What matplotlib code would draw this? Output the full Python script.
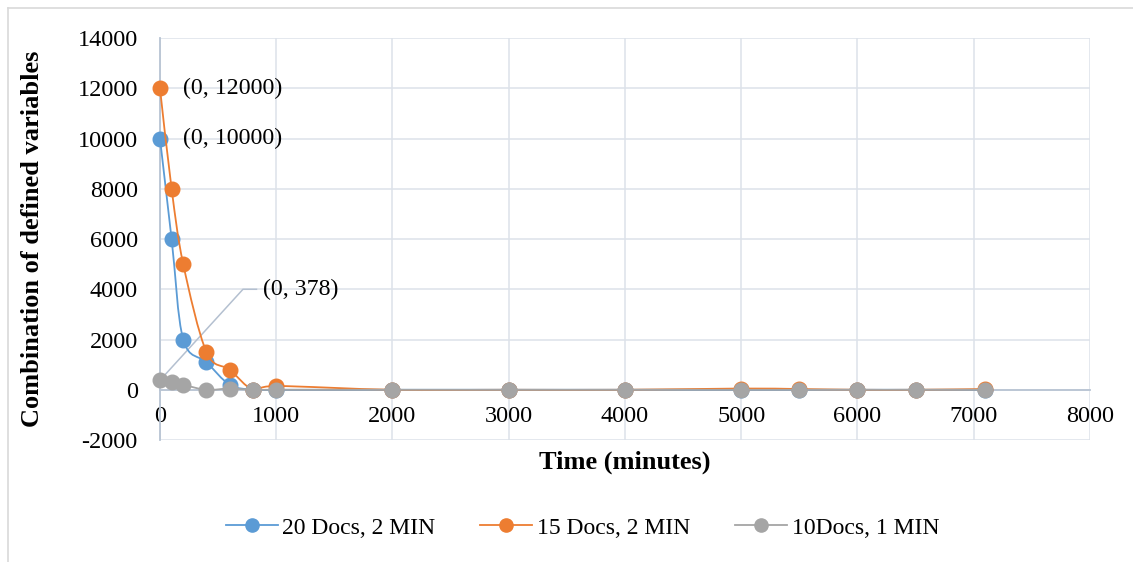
import matplotlib.pyplot as plt
from matplotlib.path import Path
from matplotlib.patches import PathPatch
from matplotlib.lines import Line2D

plt.rcParams['font.family'] = ['Liberation Serif', 'DejaVu Serif']
plt.rcParams['axes.unicode_minus'] = False

# data
time_min = [0, 100, 200, 400, 600, 800, 1000, 2000, 3000, 4000, 5000, 5500, 6000, 6500, 7100]
docs20 = [10000, 6000, 2000, 1100, 200, 0, 0, 0, 0, 0, 0, 0, 0, 0, 0]
docs15 = [12000, 8000, 5000, 1500, 800, 0, 150, 0, 0, 0, 50, 30, 0, 0, 30]
docs10 = [378, 300, 200, 0, 50, 0, 0, 0, 0, 0, 0, 0, 0, 0, 0]

names = ["20 Docs, 2 MIN", "15 Docs, 2 MIN", "10Docs, 1 MIN"]
colors = ["#5B9BD5", "#ED7D31", "#A5A5A5"]


def smooth_path(xs, ys):
    # excel-like smoothed line: catmull-rom turned into cubic bezier segments
    pts = list(zip(xs, ys))
    verts = [pts[0]]
    codes = [Path.MOVETO]
    n = len(pts)
    for i in range(n - 1):
        p0 = pts[i - 1] if i > 0 else pts[i]
        p1 = pts[i]
        p2 = pts[i + 1]
        p3 = pts[i + 2] if i + 2 < n else pts[i + 1]
        c1 = (p1[0] + (p2[0] - p0[0]) / 6, p1[1] + (p2[1] - p0[1]) / 6)
        c2 = (p2[0] - (p3[0] - p1[0]) / 6, p2[1] - (p3[1] - p1[1]) / 6)
        verts += [c1, c2, p2]
        codes += [Path.CURVE4] * 3
    return Path(verts, codes)


fig = plt.figure(figsize=(11.33, 5.62), dpi=100)
ax = fig.add_axes([0.1412, 0.217, 0.8208, 0.7154])

ax.set_xlim(0, 8000)
ax.set_ylim(-2000, 14000)
ax.set_xticks(range(0, 8001, 1000))
ax.set_yticks(range(-2000, 14001, 2000))
ax.grid(True, color="#dde2e9", lw=1.1)
ax.set_axisbelow(True)

for s in ["top", "right"]:
    ax.spines[s].set_visible(False)
ax.spines["bottom"].set_position(("data", 0))
ax.spines["bottom"].set_color("#b8c4d3")
ax.spines["left"].set_color("#b8c4d3")
ax.spines["bottom"].set_linewidth(1.3)
ax.spines["left"].set_linewidth(1.3)
ax.tick_params(axis="both", length=0, labelsize=17.5)
ax.tick_params(axis="x", pad=12)
ax.tick_params(axis="y", pad=16)

for ys, c in zip([docs20, docs15, docs10], colors):
    ax.add_patch(PathPatch(smooth_path(time_min, ys), fill=False, edgecolor=c, lw=1.3, zorder=3))
    ax.plot(time_min, ys, ls="none", marker="o", ms=10.5, color=c, zorder=3, clip_on=False)

# data labels
ax.text(198, 12000, "(0, 12000)", fontsize=17.2, va="center", ha="left")
ax.text(198, 10000, "(0, 10000)", fontsize=17.2, va="center", ha="left")
ax.plot([0, 714, 830], [docs10[0], 4000, 4000], color="#b4c0d0", lw=1.1, zorder=2)
ax.text(886, 4000, "(0, 378)", fontsize=17.2, va="center", ha="left")

ax.set_xlabel("Time (minutes)", fontsize=19, fontweight="bold", va="center")
ax.xaxis.set_label_coords(0.5, -0.055)
ax.set_ylabel("Combination of defined variables", fontsize=19, fontweight="bold", va="center")
ax.yaxis.set_label_coords(-0.1376, 0.5)

handles = [Line2D([], [], color=c, lw=1.3, marker="o", ms=9.5) for c in colors]
fig.legend(handles, names, loc="center", bbox_to_anchor=(0.514, 0.0605), ncol=3,
           frameon=False, fontsize=17, handlelength=2.2, columnspacing=1.9, handletextpad=0.2)

# outer chart border
fig.add_artist(Line2D([8 / 1133, 1], [1 - 8 / 562, 1 - 8 / 562], color="#d9d9d9", lw=1.2))
fig.add_artist(Line2D([8 / 1133, 8 / 1133], [0, 1 - 8 / 562], color="#d9d9d9", lw=1.2))

fig.savefig("out.png", dpi=100)
